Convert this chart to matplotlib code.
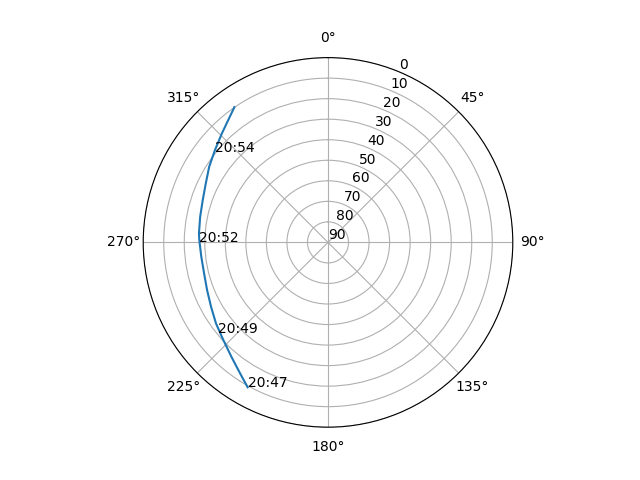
import numpy as np
import matplotlib
matplotlib.use("Agg")
import matplotlib.pyplot as plt

# Satellite pass track: azimuth (deg), elevation (deg)
azimuth = [209.0, 213.9, 220.2, 227.0, 234.2, 241.2, 248.5, 256.0, 263.6,
           271.1, 274.0, 281.4, 288.7, 295.8, 302.5, 309.3, 315.8, 325.3]
elevation = [9.3, 13.2, 17.1, 20.3, 22.7, 25.0, 26.7, 27.8, 27.9,
             27.3, 27.0, 26.5, 25.6, 23.9, 21.4, 18.9, 15.9, 9.9]

label_times = ["20:47", "20:49", "20:52", "20:54"]
label_az = [209.0, 230.4, 270.3, 308.4]
label_el = [9.3, 20.7, 27.4, 19.5]

r_ticks = list(range(0, 91, 10))

fig = plt.figure(figsize=(6.4, 4.8), dpi=100)
ax = fig.add_subplot(111, projection="polar")
ax.set_theta_zero_location("N")
ax.set_theta_direction(-1)
ax.plot(np.radians(azimuth), elevation, color="#1f77b4")
for t, a, e in zip(label_times, label_az, label_el):
    ax.text(np.radians(a), e, t)
ax.set_ylim(90, 0)
ax.set_yticks(r_ticks)
fig.savefig("out.png", dpi=100)
